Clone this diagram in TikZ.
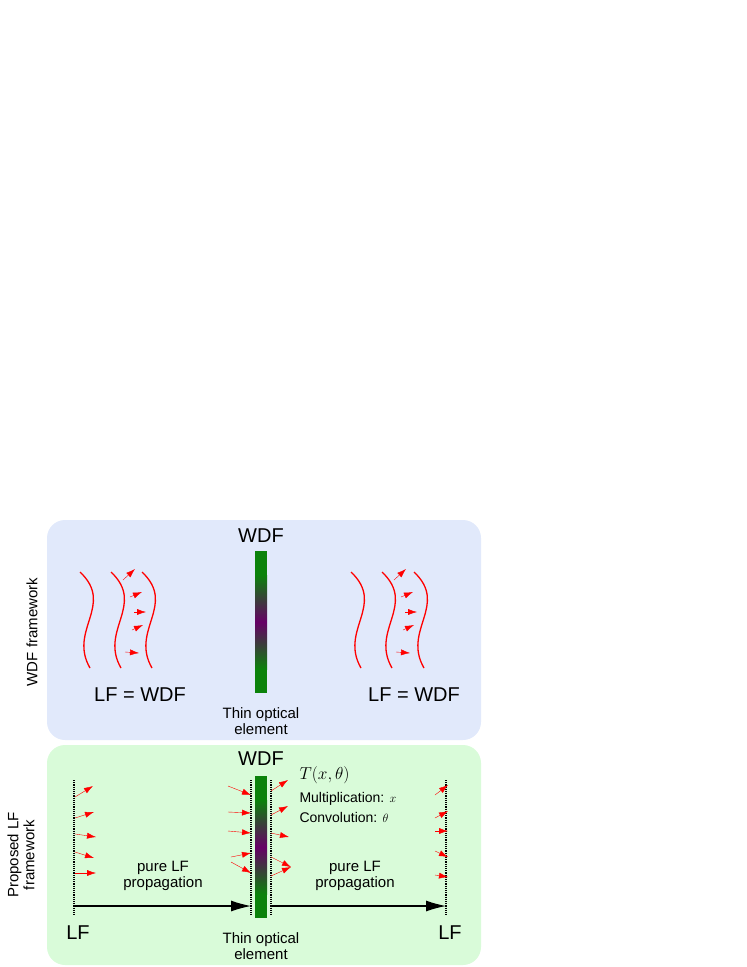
\documentclass[tikz,border=0pt]{standalone}
\usepackage{fontspec}
\setmainfont{Liberation Sans}
\usetikzlibrary{arrows.meta}
\definecolor{wdfblue}{HTML}{E1E9FB}
\definecolor{lfgreen}{HTML}{D9FBD9}
\definecolor{barGreen}{HTML}{0B820B}
\begin{document}
\begin{tikzpicture}[x=1pt,y=-1pt,
    panel/.style = {rounded corners=18pt},
    wave/.style = {red, line width=1.3pt},
    ray/.style = {red, line width=0.4pt, -{Latex[length=9pt,width=6pt]}},
    screen/.style = {densely dotted, line width=1.2pt},
    prop/.style = {line width=1.2pt, -{Latex[length=20pt,width=11pt]}},
    big/.style = {font=\fontsize{20}{22}\selectfont},
    small/.style = {font=\fontsize{15}{16}\selectfont, align=center}
  ]
  \useasboundingbox (0,0) rectangle (747,967);
  % panels
  \fill[panel, wdfblue] (47,520) rectangle (481,740);
  \fill[panel, lfgreen] (47,745) rectangle (481,965);
  \node[rotate=90, small] (wdflab) at (32,632) {WDF framework};
  \node[rotate=90, small] (lflab) at (21,855) {Proposed LF\\framework};
  % top: optical element
  \fill[barGreen] (255,551) rectangle (267,693);
  \shade[top color=barGreen, bottom color=barGreen, middle color=violet!80!black]
    (255,575) rectangle (267,669);
  \node[big] (wdftop) at (261,536) {WDF};
  \node[small] (elemtop) at (261,721) {Thin optical\\element};
  % top: wave fronts
  \foreach \x in {80,111,142,351,382,414}
    \draw[wave] (\x,572) .. controls (\x+35,605) and (\x-12,630) .. (\x+10,668);
  \foreach \x in {111,382} {
    \draw[ray] (\x+12,580) -- (\x+24,569);
    \draw[ray] (\x+19,597) -- (\x+31,592);
    \draw[ray] (\x+23,612) -- (\x+35,612);
    \draw[ray] (\x+21,630) -- (\x+32,625);
    \draw[ray] (\x+14,652) -- (\x+28,653);
  }
  \node[big] (lfleft) at (140,695) {LF = WDF};
  \node[big] (lfright) at (414,695) {LF = WDF};
  % bottom: optical element
  \fill[barGreen] (255,776) rectangle (267,918);
  \shade[top color=barGreen, bottom color=barGreen, middle color=violet!80!black]
    (255,800) rectangle (267,894);
  \node[big] (wdfbot) at (261,759) {WDF};
  \node[small] (elembot) at (261,946) {Thin optical\\element};
  \node[anchor=west, font=\fontsize{19}{20}\selectfont] (tfun) at (296,775) {$T(x,\theta)$};
  \node[anchor=west, font=\fontsize{14}{15}\selectfont] (mult) at (296,799) {Multiplication: \large$x$};
  \node[anchor=west, font=\fontsize{14}{15}\selectfont] (conv) at (296,817) {Convolution: \large$\theta$};
  % screens
  \coordinate (s1t) at (74,780);  \coordinate (s1b) at (74,915);
  \coordinate (s2t) at (251,780); \coordinate (s2b) at (251,915);
  \coordinate (s3t) at (271,780); \coordinate (s3b) at (271,915);
  \coordinate (s4t) at (446,780); \coordinate (s4b) at (446,915);
  \foreach \a/\b in {s1t/s1b,s2t/s2b,s3t/s3b,s4t/s4b}
    \draw[screen] (\a) -- (\b);
  % rays at the screens
  \draw[ray] (75,797) -- (93,786);
  \draw[ray] (75,818) -- (94,812);
  \draw[ray] (75,834) -- (96,837);
  \draw[ray] (75,852) -- (94,858);
  \draw[ray] (75,873) -- (96,873);
  \draw[ray] (228,786) -- (251,795);
  \draw[ray] (228,812) -- (251,813);
  \draw[ray] (228,831) -- (251,833);
  \draw[ray] (231,857) -- (251,853);
  \draw[ray] (231,862) -- (251,873);
  \draw[ray] (271,791) -- (288,780);
  \draw[ray] (271,815) -- (288,806);
  \draw[ray] (271,833) -- (289,837);
  \draw[ray] (271,857) -- (291,867);
  \draw[ray] (271,876) -- (291,867);
  \draw[ray] (435,795) -- (448,785);
  \draw[ray] (435,818) -- (448,811);
  \draw[ray] (435,831) -- (448,831);
  \draw[ray] (435,851) -- (448,857);
  \draw[ray] (435,875) -- (448,877);
  % propagation
  \coordinate (p1a) at (74,906);  \coordinate (p1b) at (251,906);
  \coordinate (p2a) at (271,906); \coordinate (p2b) at (446,906);
  \draw[prop] (p1a) -- (p1b);
  \draw[prop] (p2a) -- (p2b);
  \node[small] (prop1) at (163,876) {pure LF\\propagation};
  \node[small] (prop2) at (355,876) {pure LF\\propagation};
  \node[big] (lfa) at (78,933) {LF};
  \node[big] (lfb) at (450,933) {LF};
\end{tikzpicture}
\end{document}
